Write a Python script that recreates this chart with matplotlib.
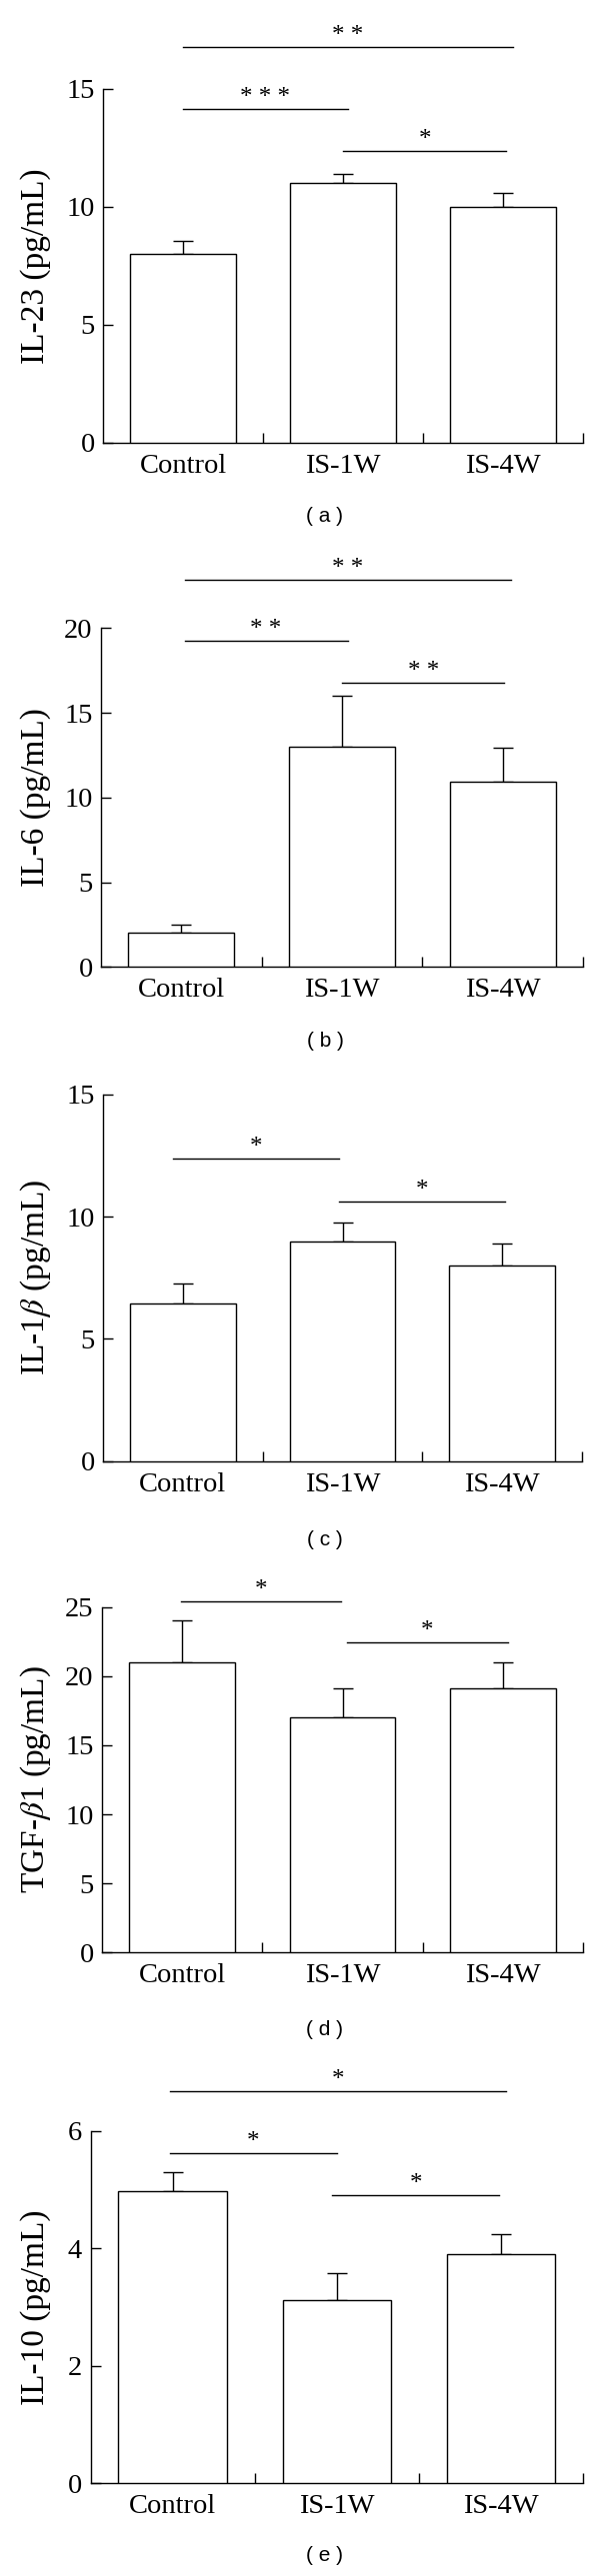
import matplotlib
matplotlib.use("Agg")
import matplotlib.pyplot as plt
import numpy as np

plt.rcParams['font.family'] = ['Liberation Serif', 'DejaVu Serif']
plt.rcParams['mathtext.fontset'] = 'stix'

categories = ["Control", "IS-1W", "IS-4W"]

il23_mean = [8.0, 11.0, 10.0]
il23_err = [0.55, 0.37, 0.58]
il6_mean = [2.0, 13.0, 10.95]
il6_err = [0.48, 3.0, 2.0]
il1b_mean = [6.45, 9.0, 8.0]
il1b_err = [0.8, 0.78, 0.89]
tgf_mean = [21.0, 17.0, 19.1]
tgf_err = [3.05, 2.15, 1.9]
il10_mean = [4.98, 3.12, 3.91]
il10_err = [0.32, 0.46, 0.33]

# significance brackets: (x start, x end, y level, label)
sig_a = [(0.5, 2.56, 16.77, "* *"), (0.5, 1.53, 14.15, "* * *"), (1.5, 2.52, 12.36, "*")]
sig_b = [(0.52, 2.55, 22.83, "* *"), (0.52, 1.535, 19.25, "* *"), (1.5, 2.51, 16.76, "* *")]
sig_c = [(0.44, 1.475, 12.38, "*"), (1.48, 2.52, 10.61, "*")]
sig_d = [(0.49, 1.49, 25.43, "*"), (1.53, 2.53, 22.46, "*")]
sig_e = [(0.485, 2.53, 6.68, "*"), (0.485, 1.50, 5.62, "*"), (1.47, 2.49, 4.90, "*")]

ylabels = ["IL-23 (pg/mL)", "IL-6 (pg/mL)", r"IL-1$\beta$ (pg/mL)",
           r"TGF-$\beta$1 (pg/mL)", "IL-10 (pg/mL)"]
yticks_list = [[0, 5, 10, 15], [0, 5, 10, 15, 20], [0, 5, 10, 15],
               [0, 5, 10, 15, 20, 25], [0, 2, 4, 6]]
panel_tags = ["( a )", "( b )", "( c )", "( d )", "( e )"]

W, H = 600, 2577
fig = plt.figure(figsize=(W / 100, H / 100), dpi=100)

# pixel geometry: left, right, y of zero, y of top tick, tag y
geom = [
    (103, 583, 442.7, 88.7, 516),
    (101, 583, 967.3, 628.3, 1042),
    (103, 582, 1461.7, 1095, 1540),
    (102, 583, 1953.3, 1607.7, 2030),
    (90.5, 583, 2484.3, 2131.7, 2557),
]

means = [il23_mean, il6_mean, il1b_mean, tgf_mean, il10_mean]
errs = [il23_err, il6_err, il1b_err, tgf_err, il10_err]
sigs = [sig_a, sig_b, sig_c, sig_d, sig_e]

x = np.arange(len(categories)) + 0.5
lw = 1.0

for i in range(5):
    left, right, y0, ytop, tagy = geom[i]
    ax = fig.add_axes([left / W, 1 - y0 / H, (right - left) / W, (y0 - ytop) / H])
    yt = yticks_list[i]
    ax.set_xlim(0, 3)
    ax.set_ylim(0, yt[-1])
    ax.bar(x, means[i], width=0.66, color='white', edgecolor='black', linewidth=lw, zorder=3)
    ax.errorbar(x, means[i], yerr=[np.zeros(3), errs[i]], fmt='none', ecolor='black',
                elinewidth=lw, capsize=7, capthick=lw, zorder=2)
    for sp in ['top', 'right']:
        ax.spines[sp].set_visible(False)
    for sp in ['left', 'bottom']:
        ax.spines[sp].set_linewidth(1.0)
    ax.set_yticks(yt)
    ax.set_yticklabels([str(v) for v in yt], fontsize=20.5)
    ax.tick_params(axis='y', direction='in', length=7, width=1.0, pad=6)
    ax.set_xticks([1, 2, 3])
    ax.set_xticklabels(["", "", ""])
    ax.tick_params(axis='x', which='major', direction='in', length=7, width=1.0)
    ax.set_xticks(x, minor=True)
    ax.set_xticklabels(categories, minor=True, fontsize=20.5)
    ax.tick_params(axis='x', which='minor', length=0, pad=8)
    for (x1, x2, yv, lab) in sigs[i]:
        ax.plot([x1, x2], [yv, yv], color='black', lw=lw, clip_on=False)
        ax.annotate(lab, xy=((x1 + x2) / 2, yv), xytext=(0, 0), textcoords='offset points',
                    ha='center', va='bottom', fontsize=18, annotation_clip=False)
    fig.text(36 / W, 1 - ((y0 + ytop) / 2) / H, ylabels[i], rotation=90,
             ha='center', va='center', fontsize=24)
    fig.text(325 / W, 1 - tagy / H, panel_tags[i], ha='center', va='center',
             fontsize=15, family='Liberation Sans')

fig.savefig("out.png", dpi=100)
